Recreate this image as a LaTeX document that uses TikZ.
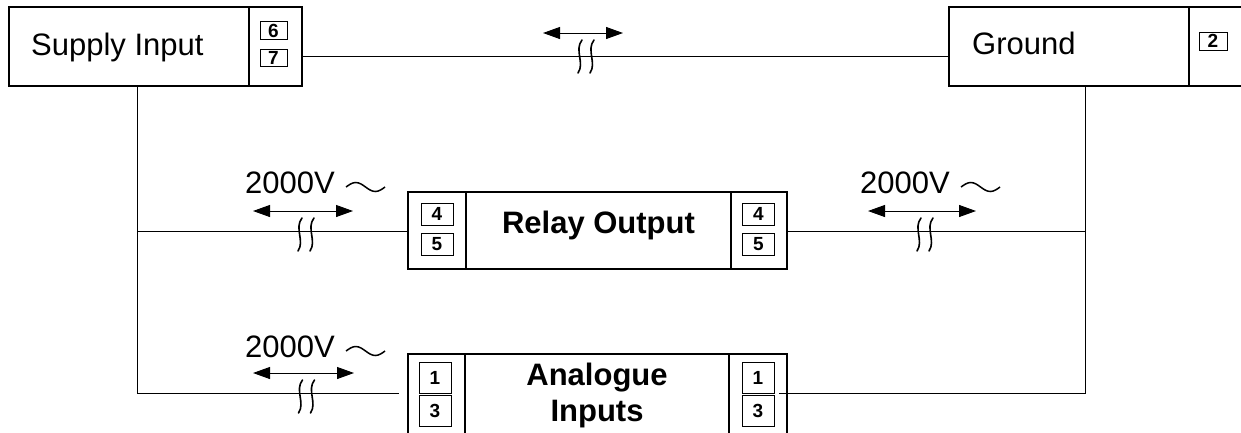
\documentclass[tikz,border=0pt]{standalone}
\usepackage{fontspec}
\setmainfont{Liberation Sans}
\usetikzlibrary{arrows.meta,fit}

\tikzset{
  unitbox/.style={draw, line width=1.1pt, inner sep=0pt},
  modbox/.style={draw, line width=2pt, inner sep=0pt},
  termbox/.style={draw, line width=1pt, inner sep=0pt, minimum width=32, minimum height=#1,
    font=\fontsize{19}{19}\selectfont\bfseries},
  termbox/.default=22,
  caption/.style={anchor=base west, inner sep=0pt, font=\fontsize{31}{31}\selectfont},
  modname/.style={anchor=base, inner sep=0pt, font=\fontsize{31}{31}\selectfont\bfseries},
  wire/.style={line width=1pt},
  isol/.style={line width=1pt, {Triangle[length=17pt,width=12pt]}-{Triangle[length=17pt,width=12pt]}},
  brk/.style={line width=1.6pt, line cap=round},
}

\begin{document}
\begin{tikzpicture}[x=1pt,y=-1pt]
\useasboundingbox (0,0) rectangle (1241,432);

% supply input
\node[unitbox, fit={(9,7) (249,86)}] (supply) {};
\node[unitbox, fit={(249,7) (302,86)}] (supplyT) {};
\node[caption] (supplyL) at (31,55) {Supply Input};
\node[termbox=17.5, minimum width=27] (s6) at (273.5,30.5) {6};
\node[termbox=17.5, minimum width=27] (s7) at (273.5,58) {7};

% ground
\node[unitbox, fit={(949,7) (1189,86)}] (ground) {};
\node[unitbox, fit={(1189,7) (1262,86)}] (groundT) {};
\node[caption] (groundL) at (972,54) {Ground};
\node[termbox=18, minimum width=28] (g2) at (1213,41) {2};

%-------------------------------------
% relay output
\node[modbox, fit={(408,192) (466,269)}] (relayA) {};
\node[modbox, fit={(466,192) (731,269)}] (relay) {};
\node[modbox, fit={(731,192) (787,269)}] (relayB) {};
\node[modname] (relayL) at (598.5,233) {Relay Output};
\node[termbox] (ra4) at (437,214) {4};
\node[termbox] (ra5) at (437,244.5) {5};
\node[termbox] (rb4) at (758.5,214) {4};
\node[termbox] (rb5) at (758.5,244.5) {5};

%-------------------------------------
% analogue inputs
\node[modbox, fit={(408,354) (465,445)}] (anaA) {};
\node[modbox, fit={(465,354) (729,445)}] (ana) {};
\node[modbox, fit={(729,354) (787,445)}] (anaB) {};
\node[modname] (anaL1) at (597,385) {Analogue};
\node[modname] (anaL2) at (597,421) {Inputs};
\node[termbox=31] (aa1) at (435,377.5) {1};
\node[termbox=31] (aa3) at (435,410.5) {3};
\node[termbox=31] (ab1) at (758,377.5) {1};
\node[termbox=31] (ab3) at (758,410.5) {3};

%-------------------------------------
% wiring
\coordinate (tw) at (302,56);
\coordinate (lt) at (137,86);
\coordinate (lm) at (137,231);
\coordinate (lb) at (137,393);
\coordinate (rt) at (1085,86);
\coordinate (rm) at (1085,231);
\coordinate (rb) at (1085,393);
\coordinate (aw) at (399,393);
\coordinate (ae) at (779,393);

\draw[wire] (tw) -- (tw -| ground.west);
\draw[wire] (lt) -- (lb) -- (aw);
\draw[wire] (lm) -- (lm -| relayA.west);
\draw[wire] (rt) -- (rb) -- (ae);
\draw[wire] (rm -| relayB.east) -- (rm);

% isolation gaps
\foreach \xa/\xb/\y in {543/623/33, 253/353/211, 868/976/211, 253/354/373} {
  \draw[isol] (\xa,\y) -- (\xb,\y);
  \pgfmathsetmacro\xm{(\xa+\xb)/2+3}
  \foreach \dx in {-6,6}
    \draw[brk] ({\xm+(\dx)+2},\y+7) .. controls ({\xm+(\dx)-6},\y+17) and ({\xm+(\dx)+5},\y+30) .. ({\xm+(\dx)-2},\y+40);
}

% test voltages
\foreach \n/\x/\y in {1/245/193, 2/860/193, 3/245/357} {
  \node[caption] (v\n) at (\x,\y) {2000V};
  \draw[line width=1.5pt] ([shift={(11,-6)}]v\n.base east) sin ++(9.75,-4.5) cos ++(9.75,4.5) sin ++(9.75,4.5) cos ++(9.75,-4.5);
}

\end{tikzpicture}
\end{document}
